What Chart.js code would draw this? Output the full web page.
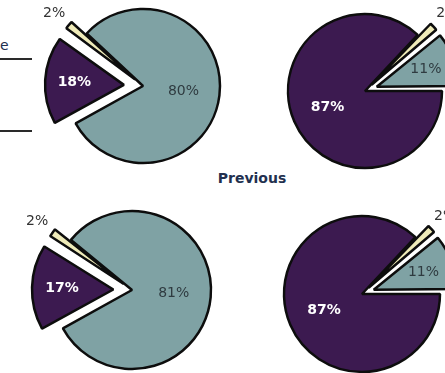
<!DOCTYPE html>
<html>
<head>
<meta charset="utf-8">
<script src="https://cdn.jsdelivr.net/npm/chart.js@4.4.1/dist/chart.umd.min.js"></script>
<style>
  html, body { margin: 0; padding: 0; background: #fff; }
  body { width: 445px; height: 373px; overflow: hidden; position: relative; font-family: "DejaVu Sans", sans-serif; }
  canvas { position: absolute; }
  #rowTitle { position: absolute; left: 252px; top: 178px; transform: translate(-50%, -50%);
              font: bold 14px "DejaVu Sans", sans-serif; color: #22304f; white-space: nowrap; }
  #sideText { position: absolute; left: 0px; top: 37px; font: 14px "DejaVu Sans", sans-serif; color: #22304f; }
  .rule { position: absolute; left: 0; width: 32px; height: 2px; background: #2a2a2a; }
</style>
</head>
<body>
<div id="sideText">e</div>
<div class="rule" style="top:58px"></div>
<div class="rule" style="top:130px"></div>
<div id="rowTitle">Previous</div>

<canvas id="curLeft" width="300" height="300"></canvas>
<canvas id="curRight" width="300" height="300"></canvas>
<canvas id="prevLeft" width="300" height="300"></canvas>
<canvas id="prevRight" width="300" height="300"></canvas>

<script>
// slice order is the same in every pie: purple, cream, teal
const categories = ['Category A', 'Category B', 'Category C'];
const currentLeft = [18, 2, 80];
const currentRight = [87, 2, 11];
const previousLeft = [17, 2, 81];
const previousRight = [87, 2, 11];

const sliceColors = ['#3c1a50', '#efebb9', '#7fa2a4'];
const labelColors = ['#ffffff', '#333333', '#2f3b40'];

// how far each slice is pulled out, in pixels
const explodeLeft = [21, 19, 0];
const explodeRight = [0, 17, 17];

// Chart.js moves an arc by offset/4 * (2 - sin(circumference)), so turn pixels into an offset
function offsetFor(explode) {
    return c => {
        const data = c.dataset.data;
        const total = data.reduce((a, b) => a + b, 0);
        const circ = data[c.dataIndex] / total * 2 * Math.PI;
        return explode[c.dataIndex] * 4 / (2 - Math.sin(Math.min(Math.PI, circ)));
    };
}

function shiftOf(offset, circ) {
    return (offset || 0) / 4 * (2 - Math.sin(Math.min(Math.PI, circ)));
}

// percentage labels: tiny slices get theirs outside the rim
const sliceLabels = {
    id: 'sliceLabels',
    afterDatasetsDraw(chart) {
        const ctx = chart.ctx;
        const ds = chart.data.datasets[0];
        const meta = chart.getDatasetMeta(0);
        const total = ds.data.reduce((a, b) => a + b, 0);
        ctx.save();
        ctx.textAlign = 'center';
        ctx.textBaseline = 'middle';
        meta.data.forEach((arc, i) => {
            const p = arc.getProps(['x', 'y', 'startAngle', 'endAngle', 'outerRadius'], true);
            const mid = (p.startAngle + p.endAngle) / 2;
            const shift = shiftOf(arc.options.offset, p.endAngle - p.startAngle);
            const share = ds.data[i] / total;
            let dist;
            if (share < 0.05) dist = p.outerRadius + shift + 19;
            else dist = shift + p.outerRadius * (share > 0.5 ? 0.53 : 0.62);
            ctx.fillStyle = labelColors[i];
            ctx.font = (i === 0 ? 'bold ' : '') + '14px "DejaVu Sans", sans-serif';
            ctx.fillText(ds.data[i] + '%', p.x + Math.cos(mid) * dist, p.y + Math.sin(mid) * dist);
        });
        ctx.restore();
    }
};

function drawPie(id, values, rotation, explode, cx, cy, radius) {
    const canvas = document.getElementById(id);
    canvas.style.left = (cx - canvas.width / 2) + 'px';
    canvas.style.top = (cy - canvas.height / 2) + 'px';
    return new Chart(canvas.getContext('2d'), {
        type: 'pie',
        data: {
            labels: categories,
            datasets: [{
                data: values,
                backgroundColor: sliceColors,
                borderColor: '#0d0d0d',
                borderWidth: 2.5,
                offset: offsetFor(explode),
                rotation: rotation,
                radius: radius
            }]
        },
        options: {
            responsive: false,
            animation: false,
            rotation: rotation,
            radius: radius,
            layout: { padding: 0 },
            plugins: {
                legend: { display: false },
                tooltip: { enabled: false }
            }
        },
        plugins: [sliceLabels]
    });
}

drawPie('curLeft', currentLeft, 241, explodeLeft, 143, 86, 77);
drawPie('curRight', currentRight, 90, explodeRight, 365, 91, 77);
drawPie('prevLeft', previousLeft, 241, explodeLeft, 132, 290, 79);
drawPie('prevRight', previousRight, 90, explodeRight, 362, 294, 78);
</script>
</body>
</html>
